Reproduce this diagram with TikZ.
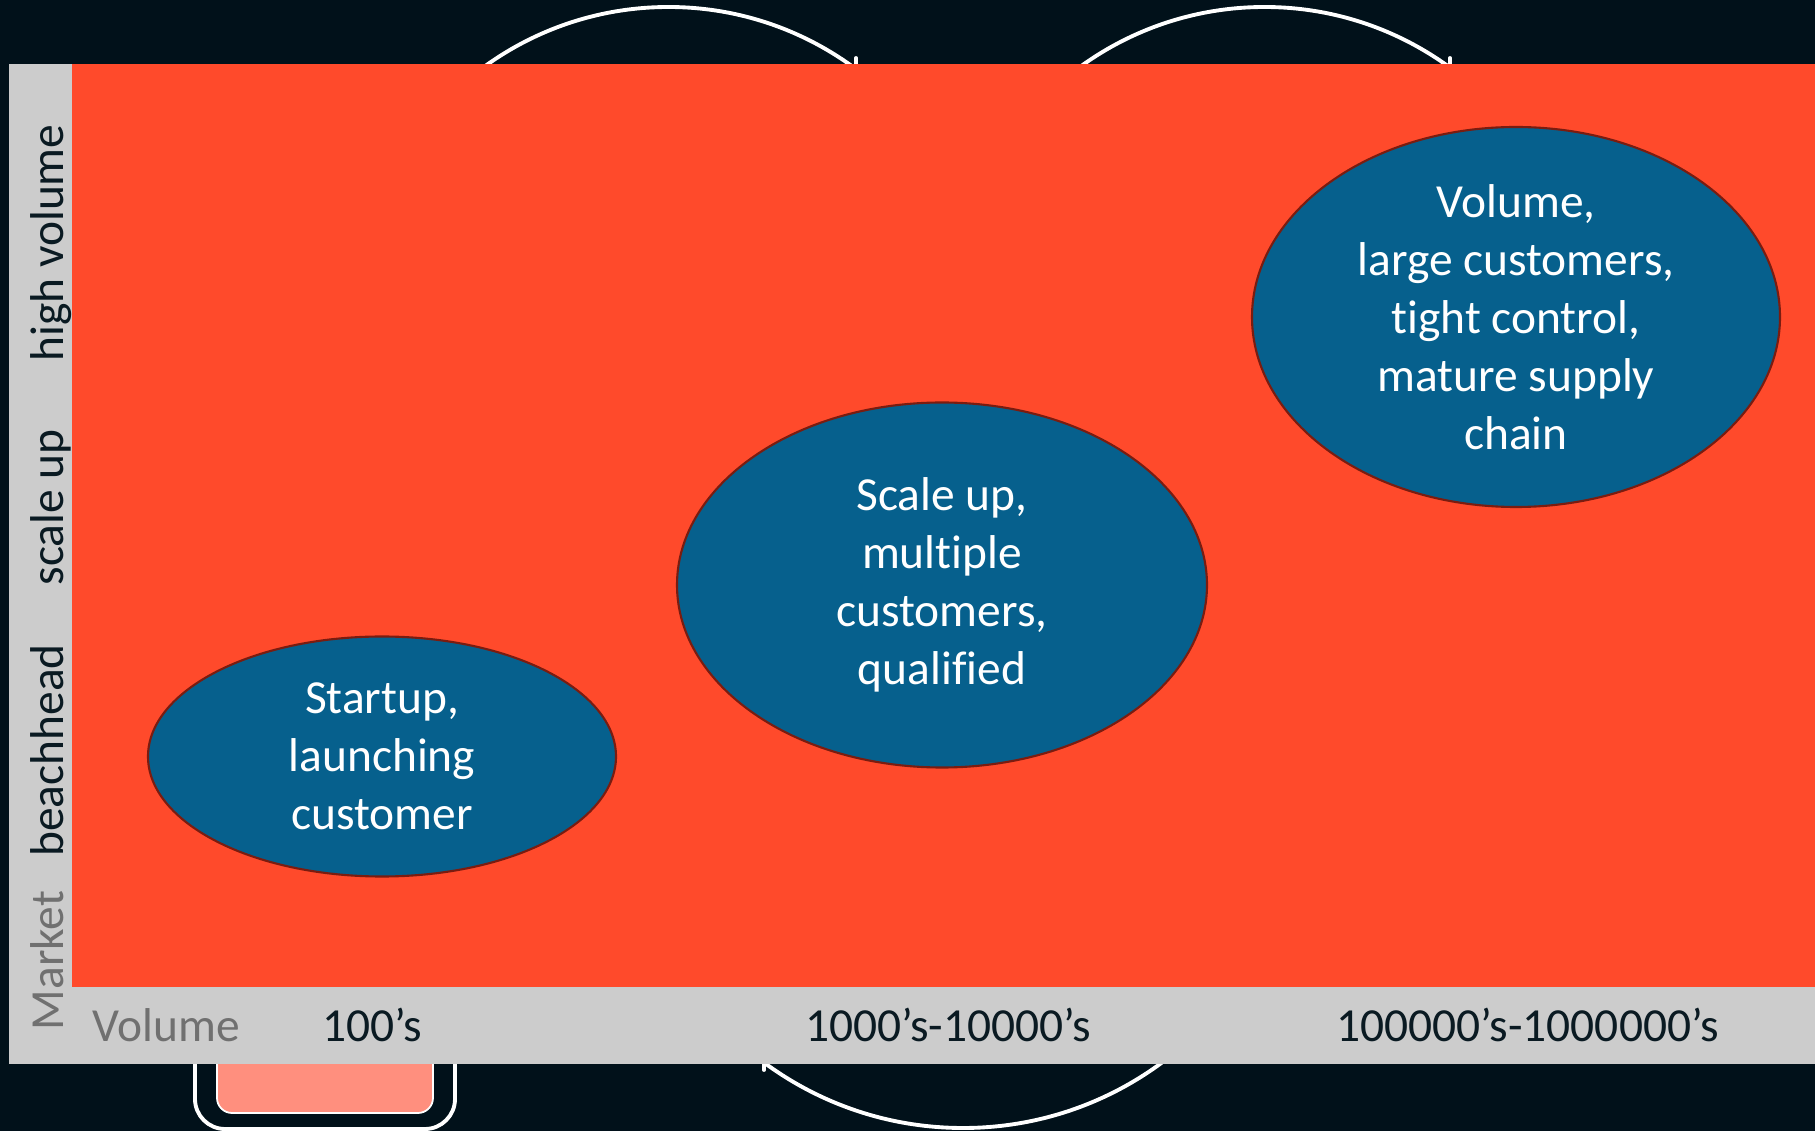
\documentclass[tikz,border=0pt]{standalone}
\usepackage{fontspec}
\setmainfont{Carlito}[Ligatures=NoCommon]
\usepackage{tikz}
\usetikzlibrary{shapes.geometric}

\definecolor{bgdark}{HTML}{01111A}
\definecolor{panelred}{HTML}{FF4A2B}
\definecolor{panelgray}{HTML}{CCCCCC}
\definecolor{stageblue}{HTML}{06608D}
\definecolor{stageedge}{HTML}{7A1C10}
\definecolor{labelgray}{HTML}{707070}
\definecolor{labeldark}{HTML}{0A1A22}
\definecolor{boxpink}{HTML}{FF8F7E}

\begin{document}
\begin{tikzpicture}[every node/.style={
	            font=\fontsize{27}{33}\selectfont,
	            inner sep=0pt,
	            },
	            every ellipse node/.style={
	            draw=stageedge,
	            fill=stageblue,
	            text=white,
	            align=center,
	            line width=1.2pt,
	            },
	            axis/.style={rotate=90, anchor=base, text=labeldark},
	            tick/.style={anchor=base, text=labeldark},
	            ring/.style={
                    draw=white,
                    line width=2.2pt
                }]

	        % background and the rings behind the panel
	        \path[use as bounding box, fill=bgdark] (0,0) rectangle (36.3,22.62);
	        \draw[ring] (13.37,16.2) circle (6.28);
	        \draw[ring] (25.29,16.2) circle (6.28);
	        \draw[ring] (19.26,6.76) circle (6.7);
	        \draw[ring, line cap=round] (17.12,21.46) -- (17.12,21.3);
	        \draw[ring, line cap=round] (29.0,21.46) -- (29.0,21.3);
	        \draw[ring, line cap=round] (15.28,1.22) -- (15.28,1.4);
	        \draw[ring, rounded corners=0.6cm] (3.9,3) -- (3.9,0.04) -- (9.1,0.04) -- (9.1,3);
	        \draw[draw=white, fill=boxpink, line width=1pt, rounded corners=0.3cm] (4.34,3) -- (4.34,0.36) -- (8.66,0.36) -- (8.66,3) -- cycle;

	        % panels
	        \fill[panelgray] (0.18,1.34) rectangle (36.3,21.34);
	        \fill[panelred] (1.44,2.88) rectangle (36.3,21.34);

	        % stages
	        \node[ellipse, minimum width=9.36cm, minimum height=4.8cm] (start) at (7.64,7.49)
	            {Startup,\\launching\\customer};
	        \node[ellipse, minimum width=10.6cm, minimum height=7.3cm] (scale) at (18.84,10.92)
	            {Scale up,\\multiple\\customers,\\qualified};
	        \node[ellipse, minimum width=10.56cm, minimum height=7.6cm] (mature) at (30.32,16.28)
	            {Volume,\\large customers,\\tight control,\\mature supply\\chain};

	        % market axis
	        \node[axis, text=labelgray] (market) at (1.28,3.41) {Market};
	        \node[axis] (beach) at (1.28,7.61) {beachhead};
	        \node[axis] (scaleup) at (1.28,12.47) {scale up};
	        \node[axis] (high) at (1.28,17.76) {high volume};

	        % volume axis
	        \node[tick, text=labelgray] (volume) at (3.32,1.8) {Volume};
	        \node[tick] (v1) at (7.45,1.8) {100’s};
	        \node[tick] (v2) at (18.96,1.8) {1000’s-10000’s};
	        \node[tick] (v3) at (30.55,1.8) {100000’s-1000000’s};

	    \end{tikzpicture}
\end{document}
